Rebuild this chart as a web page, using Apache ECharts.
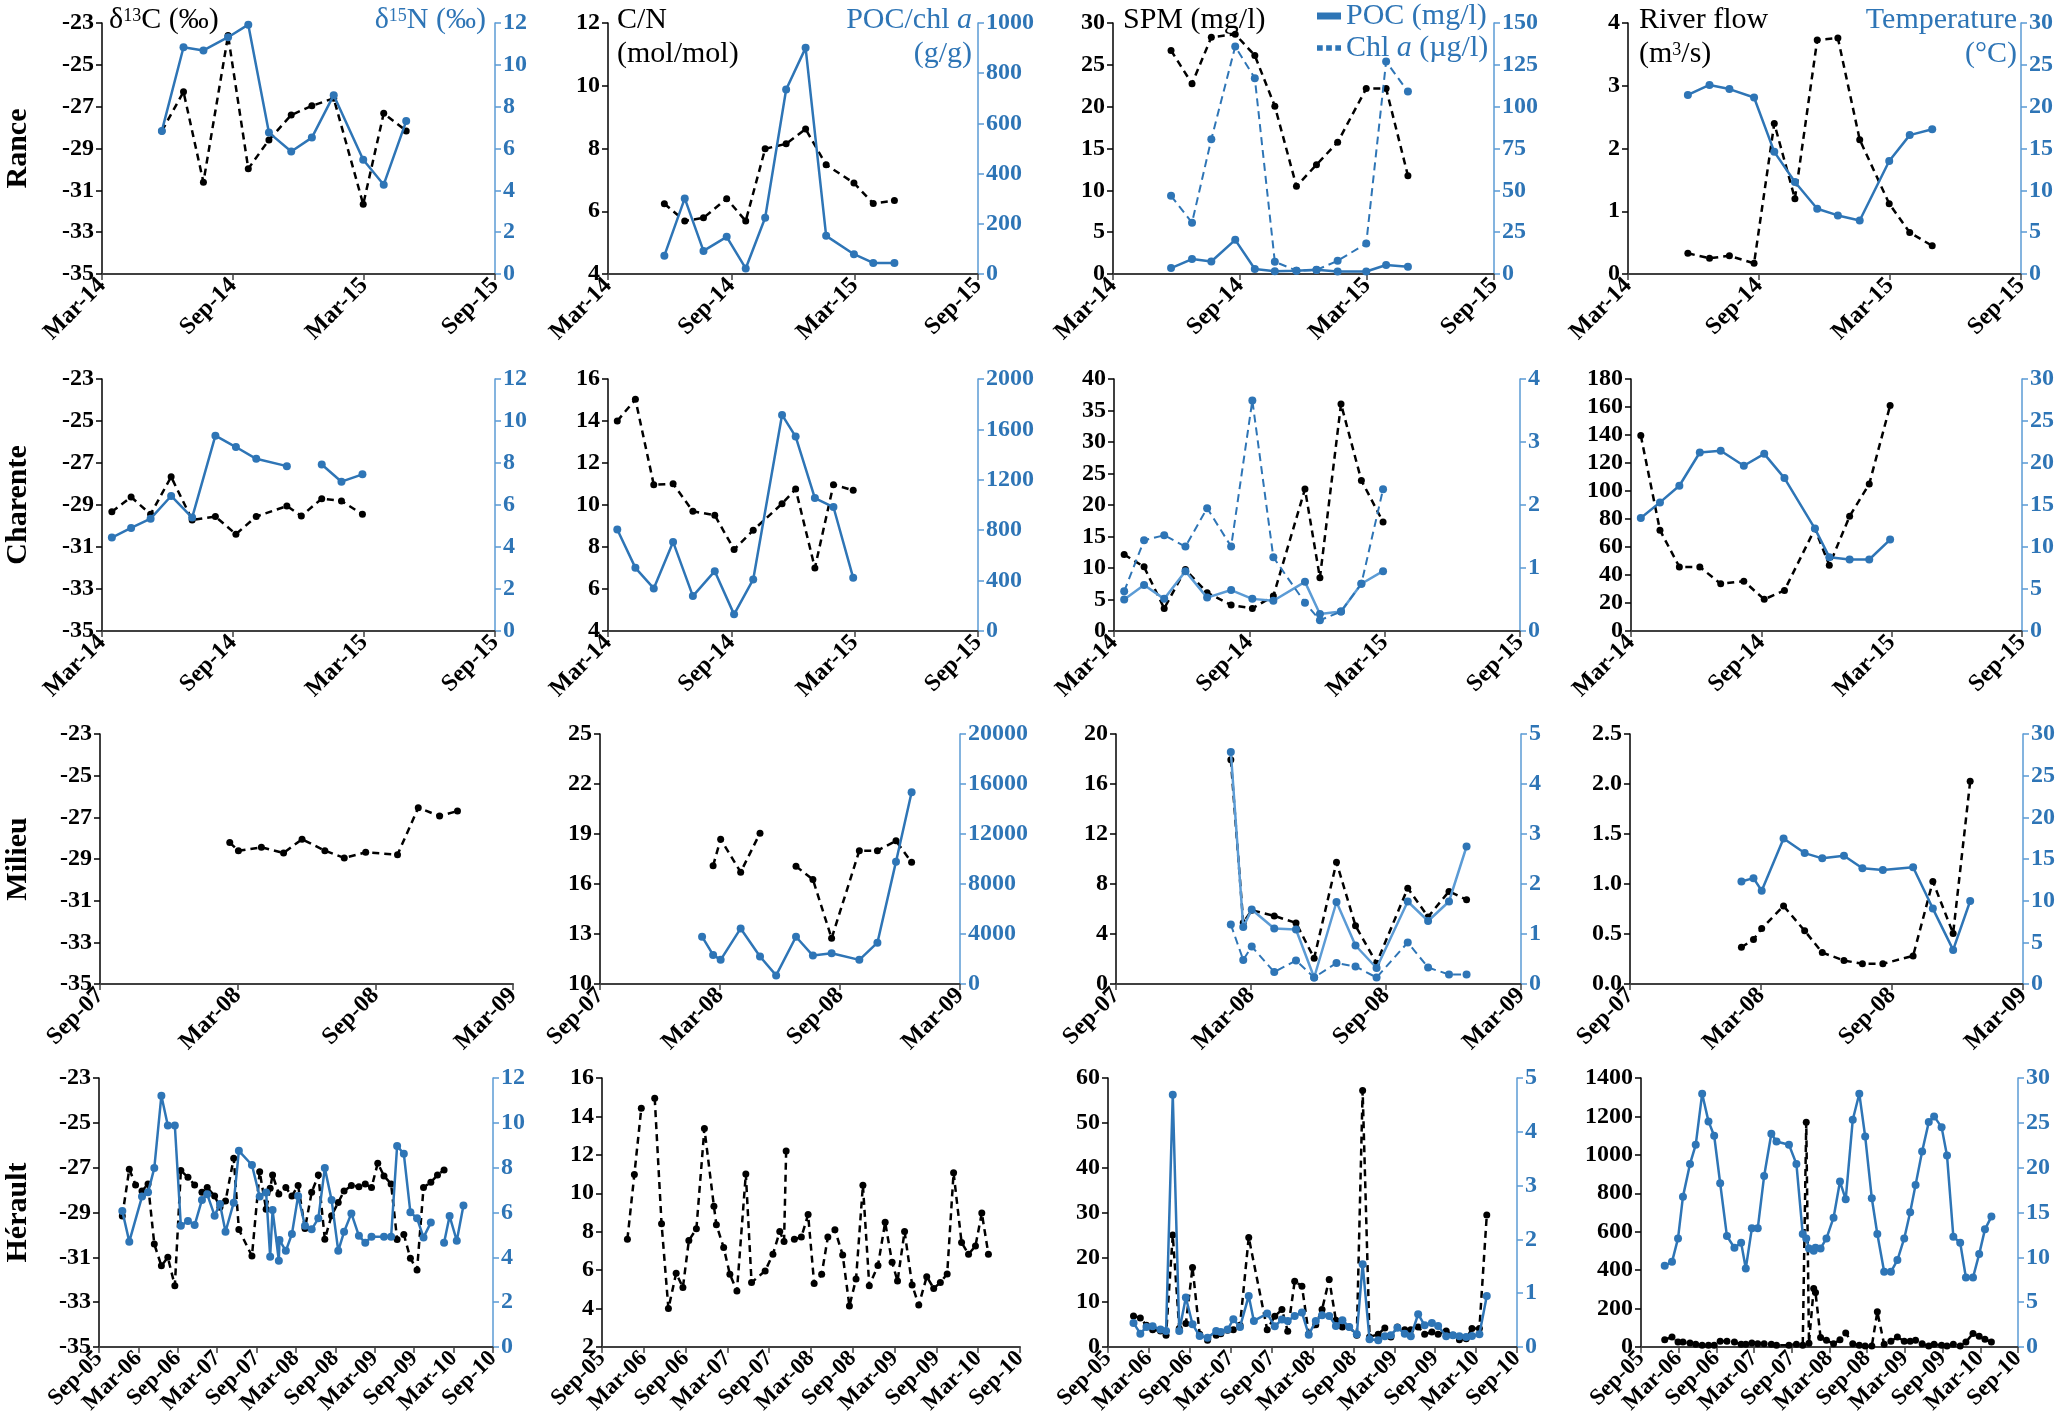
<!DOCTYPE html>
<html><head><meta charset="utf-8">
<script src="https://cdn.jsdelivr.net/npm/echarts@6/dist/echarts.min.js"></script>
<style>html,body{margin:0;padding:0;background:#fff}#c{width:2067px;height:1421px}</style>
</head><body><div id="c"></div>
<script>
// ---------------- DATA ----------------
// Rance (2014-2015)
const rDates = ['2014-05-24','2014-06-23','2014-07-21','2014-08-25','2014-09-22','2014-10-21','2014-11-21','2014-12-20','2015-01-20','2015-02-28','2015-03-29','2015-04-29'];
const rD13C  = [-28.16,-26.29,-30.61,-23.60,-29.97,-28.59,-27.40,-26.96,-26.60,-31.67,-27.32,-28.16];
const rD15N  = [6.84,10.84,10.69,11.32,11.92,6.76,5.86,6.52,8.55,5.46,4.27,7.31];
const rCN    = [6.24,5.69,5.79,6.40,5.69,7.99,8.15,8.62,7.48,6.90,6.25,6.34];
const rPOCchl= [73,301,92,148,22,224,735,901,152,79,44,44];
const rSPM   = [26.71,22.75,28.30,28.65,26.12,20.06,10.49,13.06,15.75,22.16,22.16,11.75];
const rPOC   = [0.71,1.78,1.50,4.08,0.60,0.32,0.40,0.50,0.30,0.30,1.07,0.87];
const rChl   = [46.7,30.7,80.5,136,117,7.3,2.0,2.4,7.9,18.2,127,109];
const rFlow  = [0.33,0.25,0.29,0.17,2.40,1.20,3.73,3.76,2.14,1.12,0.66,0.45];
const rTemp  = [21.4,22.6,22.1,21.1,14.6,11.0,7.8,7.0,6.4,13.5,16.6,17.3];

// Charente (2014-2015)
const cDates = ['2014-03-15','2014-04-11','2014-05-08','2014-06-06','2014-07-05','2014-08-07','2014-09-05','2014-10-03','2014-11-15','2014-12-05','2015-01-03','2015-01-31','2015-02-27'];
const cD13C  = [-29.32,-28.62,-29.44,-27.66,-29.71,-29.55,-30.39,-29.55,-29.05,-29.52,-28.70,-28.81,-29.44];
const cD15N  = [4.45,4.91,5.35,6.43,5.40,9.30,8.76,8.20,7.85,'-',7.93,7.11,7.46];
const cCN    = [14.00,15.03,10.97,11.01,9.70,9.51,7.88,8.80,10.06,10.76,7.00,10.97,10.70];
const cPOCchl= [805,501,338,707,277,475,132,409,1715,1543,1055,984,422];
const cSPM   = [12.14,10.18,3.59,9.76,6.07,4.12,3.59,5.54,22.53,8.44,36.04,23.90,17.31];
const cPOC   = [0.50,0.73,0.51,0.95,0.53,0.65,0.51,0.48,0.78,0.27,0.31,0.75,0.95];
const cChl   = [0.63,1.44,1.52,1.34,1.95,1.34,3.66,1.17,0.45,0.17,0.31,0.75,2.25];
const cFlow  = [139.6,72,45.8,45.8,33.7,35.6,22.6,29,73,47,82,105,161];
const cTemp  = [13.45,15.31,17.29,21.25,21.45,19.67,21.09,18.20,12.19,8.79,8.51,8.51,10.88];

// Milieu (2008)
const mDates = ['2008-02-04','2008-02-20','2008-03-02','2008-04-02','2008-05-01','2008-05-26','2008-06-25','2008-07-21','2008-08-19','2008-09-30','2008-10-28','2008-11-25','2008-12-19'];
const mD13C  = [null,-28.21,-28.60,-28.44,-28.71,-28.05,-28.60,-28.95,-28.68,-28.79,-26.54,-26.94,-26.70];
const mCN    = [null,17.10,18.69,16.71,19.05,'-',17.06,16.27,12.74,18.00,18.00,18.59,17.30];
const mPOCchl= [3783,2328,1931,4444,2196,688,3783,2275,2460,1931,3307,9788,15344];
const mSPM   = [17.94,4.90,5.90,5.45,4.89,2.06,9.74,4.66,1.67,7.67,5.37,7.41,6.75];
const mPOC   = [4.64,1.14,1.49,1.11,1.09,0.13,1.64,0.77,0.32,1.65,1.26,1.65,2.75];
const mChl   = [1.19,0.48,0.75,0.24,0.47,0.13,0.42,0.35,0.13,0.83,0.33,0.19,0.19];
const mFlow  = [0.367,0.446,0.556,0.780,0.532,0.314,0.235,0.202,0.202,0.281,1.025,0.506,2.027];
const mTemp  = [12.30,12.70,11.19,17.46,15.71,15.08,15.40,13.89,13.69,14.00,9.05,4.09,9.96];

// Hérault (2005-2010)
const hDates1 = ['2005-12-18','2006-01-20','2006-02-17','2006-03-18','2006-04-15','2006-05-14','2006-06-16','2006-07-16','2006-08-18','2006-09-15','2006-10-18','2006-11-18','2006-12-22','2007-01-16','2007-02-18','2007-03-14','2007-04-09','2007-05-17','2007-06-10','2007-08-10','2007-09-15','2007-10-15','2007-11-03','2007-11-14','2007-12-13','2007-12-16','2008-01-15','2008-02-12','2008-03-11','2008-04-12','2008-05-13','2008-06-13','2008-07-13','2008-08-14','2008-09-14','2008-10-11','2008-11-14','2008-12-19','2009-01-18','2009-02-15','2009-03-15','2009-04-13','2009-05-16','2009-06-13','2009-07-14','2009-08-14','2009-09-14','2009-10-14','2009-11-17','2009-12-18','2010-01-18','2010-02-12','2010-03-16','2010-04-16'];
const hD13C = [-29.16,-27.07,-27.77,-28.04,-27.73,-30.41,-31.38,-31.00,-32.27,-27.13,
  -27.43,-27.77,-28.10,-27.89,-28.26,-28.77,-28.49,-26.58,-29.76,-30.94,
  -27.18,-28.86,-27.92,-27.33,-28.17,null,-27.89,-28.26,-27.80,-29.71,
  -28.10,-27.33,-30.19,-29.14,-28.55,-28.04,-27.80,-27.85,-27.73,-27.89,
  -26.80,-27.37,-27.73,-30.20,-29.98,-31.04,-31.57,-27.89,-27.65,-27.33,
  -27.10,null,null,null];
const hD15N = [6.07,4.70,null,6.71,6.90,7.98,11.21,9.88,9.88,5.41,
  5.62,5.44,6.56,6.81,5.86,6.38,5.14,6.44,8.75,8.12,
  6.71,6.89,4.03,6.11,3.85,4.77,4.29,5.04,6.74,5.41,
  5.25,5.74,7.98,6.56,4.29,5.14,5.96,4.96,4.65,4.92,
  null,4.92,4.92,8.97,8.62,6.01,5.74,4.89,5.55,'-',
  4.65,5.84,4.74,6.31];
const hDates2 = ['2005-12-21','2006-01-21','2006-02-19','2006-03-19','2006-04-18','2006-05-18','2006-06-17','2006-07-21','2006-08-20','2006-09-15','2006-10-18','2006-11-22','2007-01-03','2007-01-14','2007-02-14','2007-03-12','2007-04-12','2007-05-21','2007-06-15','2007-08-14','2007-09-17','2007-10-17','2007-11-05','2007-11-14','2007-12-01','2007-12-20','2008-01-20','2008-02-18','2008-03-15','2008-04-17','2008-05-14','2008-06-14','2008-07-18','2008-08-17','2008-09-15','2008-10-15','2008-11-12','2008-12-20','2009-01-21','2009-02-19','2009-03-14','2009-04-14','2009-05-17','2009-06-15','2009-07-20','2009-08-20','2009-09-18','2009-10-18','2009-11-15','2009-12-20','2010-01-20','2010-02-18','2010-03-17','2010-04-15'];
const hCN = [7.61,10.98,14.43,'-',14.95,8.42,4.00,5.84,5.10,7.54,
  8.15,13.37,9.32,8.36,7.18,5.78,4.91,11.01,5.36,5.96,
  6.83,8.01,7.49,12.20,'-',7.61,7.72,8.89,5.31,5.78,
  7.72,8.10,6.79,4.13,5.54,10.42,5.19,6.24,8.49,6.41,
  5.43,8.01,5.23,4.18,5.66,5.05,5.36,5.80,11.07,7.44,
  6.83,7.26,8.97,6.83];
const hDates3 = ['2005-12-24','2006-01-24','2006-02-19','2006-03-18','2006-04-22','2006-05-17','2006-06-16','2006-07-15','2006-08-14','2006-09-13','2006-10-15','2006-11-19','2006-12-28','2007-01-18','2007-02-16','2007-03-13','2007-04-12','2007-05-21','2007-06-13','2007-08-12','2007-09-15','2007-10-17','2007-11-12','2007-12-13','2008-01-15','2008-02-14','2008-03-16','2008-04-13','2008-05-15','2008-06-14','2008-07-13','2008-08-13','2008-09-16','2008-10-12','2008-11-12','2008-12-21','2009-01-20','2009-02-15','2009-03-15','2009-04-17','2009-05-14','2009-06-16','2009-07-15','2009-08-17','2009-09-14','2009-10-20','2009-11-19','2009-12-18','2010-01-18','2010-02-12','2010-03-16','2010-04-18'];
const hSPM = [6.93,6.48,4.84,3.87,3.58,2.61,24.96,4.10,5.22,17.73,
  2.83,1.49,2.61,2.98,3.73,3.87,4.84,24.44,null,3.87,
  6.86,8.35,3.50,14.68,13.56,2.98,4.99,8.35,15.05,5.96,
  4.47,4.47,2.61,57.23,2.24,2.83,4.25,2.24,4.47,3.87,
  3.87,4.47,2.83,3.35,2.83,3.58,2.61,1.64,1.86,4.10,
  4.10,29.43];
const hPOC = [0.447,0.248,0.373,0.385,0.323,0.298,4.69,0.298,0.919,0.422,
  0.205,0.174,0.298,0.280,0.323,0.516,0.373,0.950,0.484,0.621,
  0.385,0.509,0.484,0.578,0.640,0.230,0.484,0.590,0.578,0.391,
  0.497,0.373,0.236,1.54,0.143,0.124,0.199,0.217,0.360,0.248,
  0.199,0.609,0.404,0.447,0.391,0.199,0.217,0.199,0.186,0.205,
  0.236,0.950];
const hDates4 = ['2005-12-25','2006-01-30','2006-02-26','2006-03-22','2006-04-25','2006-05-23','2006-06-23','2006-07-24','2006-08-21','2006-09-19','2006-10-22','2006-11-27','2006-12-30','2007-01-22','2007-02-19','2007-03-19','2007-04-19','2007-05-24','2007-06-18','2007-08-18','2007-09-23','2007-10-24','2007-11-10','2007-11-23','2007-12-16','2007-12-25','2008-01-19','2008-02-16','2008-03-21','2008-04-21','2008-05-19','2008-06-22','2008-07-24','2008-08-22','2008-09-23','2008-10-20','2008-11-22','2008-12-25','2009-01-26','2009-02-26','2009-03-27','2009-04-22','2009-05-24','2009-06-25','2009-07-21','2009-08-27','2009-09-22','2009-10-23','2009-11-25','2009-12-23','2010-01-27','2010-02-24','2010-03-24','2010-04-24'];
const hFlow = [38,52,26,26,21,14,9,9,9,30,
  30,26,14,14,21,17,17,14,9,9,
  14,9,1170,20,304,283,49,35,17,38,
  73,17,9,5,5,183,14,30,52,30,
  30,35,17,5,14,9,5,14,5,26,
  70,56,40,26];
const hTemp = [9.06,9.50,12.11,16.77,20.42,22.55,28.25,25.16,23.56,18.26,
  12.37,11.07,11.63,8.76,13.23,13.23,19.08,23.78,22.92,22.55,
  20.42,12.60,12.11,10.99,10.73,11.07,10.99,12.11,14.42,18.45,
  16.47,25.34,28.25,23.48,16.59,12.60,8.39,8.39,9.69,12.11,
  15.02,18.08,21.80,25.08,25.72,24.52,21.36,12.30,11.63,7.75,
  7.75,10.36,13.12,14.54];

const rowNames = ['Rance','Charente','Milieu','Hérault'];

// ---------------- HELPERS ----------------
const SERIF = '"Liberation Serif","Times New Roman",serif';
const BLUE = '#2E75B6', BLUE_L = '#5B9BD5';
const MON = ['Jan','Feb','Mar','Apr','May','Jun','Jul','Aug','Sep','Oct','Nov','Dec'];
// months since 2000-03-01 (so March/September ticks are multiples of 6)
function mIdx(s){ const p=s.split('-').map(Number); const dim=new Date(p[0],p[1],0).getDate(); return (p[0]-2000)*12+(p[1]-1)-2+(p[2]-1)/dim; }
function monthLabel(v){ const t=Math.round(v)+2; return MON[((t%12)+12)%12]+'-'+String(2000+Math.floor(t/12)).slice(2); }
function seq(a,b,s){ const o=[]; for(let k=0;a+k*s<=b+1e-9;k++) o.push(+(a+k*s).toFixed(6)); return o; }
function pts(dates, vals){ const o=[]; dates.forEach((d,i)=>{ const v=vals[i]; if(v===null||v===undefined) return; o.push([mIdx(d), v]); }); return o; }

const grids=[], xAxes=[], yAxes=[], series=[];
function makeY(gi, a, pos){
  const vals = seq(a.min,a.max,a.step);
  const isR = pos==='right';
  const col = isR?BLUE:'#000', lc = isR?BLUE_L:'#000';
  return {type:'value', gridIndex:gi, position:pos, min:a.min, max:a.max, interval:a.step,
    axisLine:{show:true,onZero:false,lineStyle:{color:lc,width:1.5}},
    axisTick:{show:true,length:6,lineStyle:{color:lc,width:1.5},customValues:vals},
    splitLine:{show:false},
    axisLabel:{customValues:vals, formatter:v=>a.dec?(+v).toFixed(a.dec):String(+(+v).toFixed(4)),
      fontFamily:SERIF,fontWeight:'bold',fontSize:24,color:col,margin:8}};
}
function makeSeries(s, gi, yi){
  const o = {type:'line', xAxisIndex:gi, yAxisIndex:yi, data:pts(s.d,s.v), symbol:'circle', connectNulls:false, animation:false};
  if(s.name) o.name = s.name;
  if(s.k==='k') Object.assign(o,{symbolSize:7,z:2,itemStyle:{color:'#000'},lineStyle:{color:'#000',width:2.5,type:[7,5]}});
  else if(s.k==='b') Object.assign(o,{symbolSize:8,z:3,itemStyle:{color:BLUE},lineStyle:{color:BLUE,width:2.5}});
  else if(s.k==='bl') Object.assign(o,{symbolSize:8,z:3,itemStyle:{color:BLUE},lineStyle:{color:BLUE_L,width:2.5}});
  else if(s.k==='bd') Object.assign(o,{symbolSize:8,z:3,itemStyle:{color:BLUE},lineStyle:{color:BLUE,width:2,type:[8,5]}});
  return o;
}
function addPanel(row, p){
  const gi = grids.length;
  grids.push({left:p.l, top:row.t, width:p.r-p.l, height:row.b-row.t, containLabel:false});
  xAxes.push({type:'value', gridIndex:gi, min:row.x[0], max:row.x[1], interval:6,
    axisLine:{onZero:false,lineStyle:{color:'#404040',width:2}},
    axisTick:{length:6,lineStyle:{color:'#404040',width:1.5}},
    splitLine:{show:false},
    axisLabel:{formatter:monthLabel, rotate:45, fontFamily:SERIF, fontWeight:'bold', fontSize:row.xfs, color:'#000', margin:8}});
  const yl = yAxes.length; yAxes.push(makeY(gi,p.ly,'left'));
  let yr = null; if(p.ry){ yr = yAxes.length; yAxes.push(makeY(gi,p.ry,'right')); }
  p.s.forEach(s=>series.push(makeSeries(s,gi,s.ax==='r'?yr:yl)));
}

const D13 = {min:-35,max:-23,step:2};
const rows = [
 {t:23,b:274,x:[168,186],xfs:24,panels:[
   {l:102,r:495,ly:D13,ry:{min:0,max:12,step:2},s:[{k:'k',d:rDates,v:rD13C},{k:'b',d:rDates,v:rD15N,ax:'r'}]},
   {l:608,r:978,ly:{min:4,max:12,step:2},ry:{min:0,max:1000,step:200},s:[{k:'k',d:rDates,v:rCN},{k:'b',d:rDates,v:rPOCchl,ax:'r'}]},
   {l:1113,r:1494,ly:{min:0,max:30,step:5},ry:{min:0,max:150,step:25},s:[{k:'k',d:rDates,v:rSPM},{k:'b',d:rDates,v:rPOC,name:'POC (mg/l)'},{k:'bd',d:rDates,v:rChl,ax:'r',name:'Chl a (µg/l)'}]},
   {l:1628,r:2021,ly:{min:0,max:4,step:1},ry:{min:0,max:30,step:5},s:[{k:'k',d:rDates,v:rFlow},{k:'b',d:rDates,v:rTemp,ax:'r'}]}
 ]},
 {t:379,b:631,x:[168,186],xfs:24,panels:[
   {l:102,r:495,ly:D13,ry:{min:0,max:12,step:2},s:[{k:'k',d:cDates,v:cD13C},{k:'b',d:cDates,v:cD15N,ax:'r'}]},
   {l:608,r:978,ly:{min:4,max:16,step:2},ry:{min:0,max:2000,step:400},s:[{k:'k',d:cDates,v:cCN},{k:'b',d:cDates,v:cPOCchl,ax:'r'}]},
   {l:1114,r:1520,ly:{min:0,max:40,step:5},ry:{min:0,max:4,step:1},s:[{k:'k',d:cDates,v:cSPM},{k:'bl',d:cDates,v:cPOC,ax:'r'},{k:'bd',d:cDates,v:cChl,ax:'r'}]},
   {l:1631,r:2022,ly:{min:0,max:180,step:20},ry:{min:0,max:30,step:5},s:[{k:'k',d:cDates,v:cFlow},{k:'b',d:cDates,v:cTemp,ax:'r'}]}
 ]},
 {t:734,b:984,x:[90,108],xfs:24,panels:[
   {l:100,r:513,ly:D13,ry:null,s:[{k:'k',d:mDates,v:mD13C}]},
   {l:600,r:960,ly:{min:10,max:25,step:3},ry:{min:0,max:20000,step:4000},s:[{k:'k',d:mDates,v:mCN},{k:'b',d:mDates,v:mPOCchl,ax:'r'}]},
   {l:1116,r:1521,ly:{min:0,max:20,step:4},ry:{min:0,max:5,step:1},s:[{k:'k',d:mDates,v:mSPM},{k:'bl',d:mDates,v:mPOC,ax:'r'},{k:'bd',d:mDates,v:mChl,ax:'r'}]},
   {l:1630,r:2023,ly:{min:0,max:2.5,step:0.5,dec:1},ry:{min:0,max:30,step:5},s:[{k:'k',d:mDates,v:mFlow},{k:'b',d:mDates,v:mTemp,ax:'r'}]}
 ]},
 {t:1078,b:1347,x:[66,126],xfs:23,panels:[
   {l:99,r:493,ly:D13,ry:{min:0,max:12,step:2},s:[{k:'k',d:hDates1,v:hD13C},{k:'b',d:hDates1,v:hD15N,ax:'r'}]},
   {l:602,r:1020,ly:{min:2,max:16,step:2},ry:null,s:[{k:'k',d:hDates2,v:hCN}]},
   {l:1108,r:1517,ly:{min:0,max:60,step:10},ry:{min:0,max:5,step:1},s:[{k:'k',d:hDates3,v:hSPM},{k:'b',d:hDates3,v:hPOC,ax:'r'}]},
   {l:1641,r:2018,ly:{min:0,max:1400,step:200},ry:{min:0,max:30,step:5},s:[{k:'k',d:hDates4,v:hFlow},{k:'b',d:hDates4,v:hTemp,ax:'r'}]}
 ]}
];
rows.forEach(row=>row.panels.forEach(p=>addPanel(row,p)));

// axis titles (top row)
function T(text, pos, top, color){
  return Object.assign({text, top, padding:0, textStyle:{fontFamily:SERIF, fontWeight:'normal', fontSize:30, color, lineHeight:34,
    rich:{s:{fontFamily:SERIF,fontSize:18,color,verticalAlign:'top',padding:[4,0,0,0]}, i:{fontFamily:SERIF,fontSize:30,fontStyle:'italic',color,lineHeight:34}}}}, pos);
}
const titles = [
  T('δ{s|13}C (‰)', {left:109}, 3, '#000'),
  T('δ{s|15}N (‰)', {right:1581}, 3, BLUE),
  T('C/N', {left:617}, 3, '#000'),
  T('(mol/mol)', {left:617}, 37, '#000'),
  T('POC/chl {i|a}', {right:1095}, 3, BLUE),
  T('(g/g)', {right:1095}, 37, BLUE),
  T('SPM (mg/l)', {left:1123}, 3, '#000'),
  T('River flow', {left:1639}, 3, '#000'),
  T('(m{s|3}/s)', {left:1639}, 37, '#000'),
  T('Temperature', {right:50}, 3, BLUE),
  T('(°C)', {right:50}, 37, BLUE)
];

const graphics = rowNames.map((n,i)=>({type:'text', x:18, y:(rows[i].t+rows[i].b)/2, rotation:Math.PI/2,
  style:{text:n, font:'bold 30px '+SERIF, fill:'#000', textAlign:'center', textVerticalAlign:'middle'}}));

const chart = echarts.init(document.getElementById('c'), null, {renderer:'canvas'});
chart.setOption({
  animation:false,
  backgroundColor:'#fff',
  title:titles,
  legend:{left:1312, top:-4, orient:'vertical', itemGap:2, itemWidth:24, itemHeight:7, selectedMode:false,
    data:[{name:'POC (mg/l)', icon:'rect'},{name:'Chl a (µg/l)', icon:'path://M0,0h5v5h-5zM8,0h5v5h-5zM16,0h5v5h-5z'}],
    formatter:n=>n.indexOf('Chl')===0?'Chl {i|a} (µg/l)':n,
    textStyle:{fontFamily:SERIF, fontSize:30, color:BLUE, lineHeight:30, rich:{i:{fontFamily:SERIF,fontSize:30,fontStyle:'italic',color:BLUE}}}},
  grid:grids, xAxis:xAxes, yAxis:yAxes, series:series, graphic:graphics
});
</script></body></html>
